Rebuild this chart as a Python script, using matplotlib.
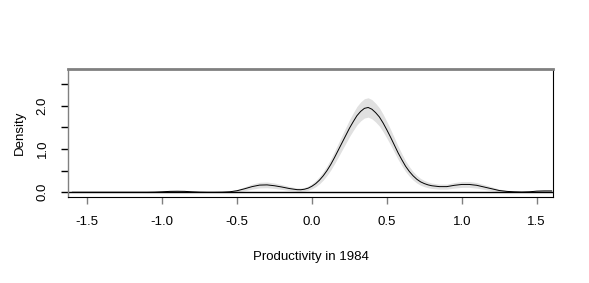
import matplotlib
matplotlib.use("Agg")
import matplotlib.pyplot as plt

plt.rcParams['font.family'] = ['Liberation Sans', 'DejaVu Sans']

# density estimate
x = [-1.60, -1.55, -1.50, -1.45, -1.40, -1.35, -1.30, -1.25, -1.20, -1.15,
     -1.10, -1.05, -1.00, -0.95, -0.90, -0.85, -0.80, -0.75, -0.70, -0.65,
     -0.60, -0.55, -0.50, -0.45, -0.40, -0.35, -0.30, -0.25, -0.20, -0.15,
     -0.10, -0.075, -0.05, -0.025, 0.00, 0.025, 0.05, 0.075, 0.10, 0.125,
     0.15, 0.175, 0.20, 0.225, 0.25, 0.275, 0.30, 0.325, 0.35, 0.375,
     0.40, 0.425, 0.45, 0.475, 0.50, 0.525, 0.55, 0.575, 0.60, 0.625,
     0.65, 0.675, 0.70, 0.725, 0.75, 0.775, 0.80, 0.85,
     0.90, 0.95, 1.00, 1.05, 1.10, 1.15, 1.20, 1.25, 1.30, 1.35,
     1.40, 1.45, 1.50, 1.55, 1.60]
dens = [0.0, 0.0, 0.0, 0.0, 0.0, 0.0, 0.0, 0.0, 0.0, 0.0,
        0.0, 0.003, 0.01, 0.02, 0.022, 0.02, 0.01, 0.003, 0.0, 0.0,
        0.002, 0.01, 0.035, 0.08, 0.13, 0.165, 0.17, 0.15, 0.12, 0.085,
        0.06, 0.058, 0.07, 0.095, 0.14, 0.20, 0.28, 0.38, 0.50, 0.64,
        0.80, 0.97, 1.14, 1.31, 1.48, 1.63, 1.77, 1.87, 1.94, 1.96,
        1.92, 1.84, 1.74, 1.60, 1.44, 1.27, 1.09, 0.91, 0.75, 0.60,
        0.48, 0.38, 0.30, 0.24, 0.20, 0.17, 0.15, 0.13,
        0.13, 0.16, 0.18, 0.18, 0.16, 0.12, 0.08, 0.04, 0.02, 0.01,
        0.005, 0.01, 0.025, 0.03, 0.03]
half_width = [0.0, 0.0, 0.0, 0.0, 0.0, 0.0, 0.0, 0.0, 0.0, 0.005,
              0.008, 0.009, 0.016, 0.023, 0.024, 0.023, 0.016, 0.009, 0.005, 0.005,
              0.007, 0.016, 0.030, 0.045, 0.058, 0.065, 0.066, 0.062, 0.055, 0.047,
              0.039, 0.040, 0.042, 0.049, 0.060, 0.072, 0.085, 0.099, 0.113, 0.128,
              0.143, 0.158, 0.171, 0.183, 0.195, 0.204, 0.213, 0.219, 0.223, 0.224,
              0.222, 0.217, 0.211, 0.202, 0.192, 0.180, 0.167, 0.153, 0.139, 0.124,
              0.111, 0.099, 0.088, 0.078, 0.072, 0.066, 0.062, 0.058,
              0.058, 0.064, 0.068, 0.068, 0.064, 0.055, 0.045, 0.032, 0.023, 0.016,
              0.011, 0.016, 0.025, 0.028, 0.028]

lower = [d - h for d, h in zip(dens, half_width)]
upper = [d + h for d, h in zip(dens, half_width)]

xticks = [-1.5, -1.0, -0.5, 0.0, 0.5, 1.0, 1.5]
yticks = [0.0, 0.5, 1.0, 1.5, 2.0, 2.5]
ylabels = ["0.0", "", "1.0", "", "2.0", ""]

fig = plt.figure(figsize=(5.89, 2.83), dpi=100)
ax = fig.add_axes([0.1154, 0.3039, 0.8235, 0.4523])

ax.fill_between(x, lower, upper, color="#e0e0e0", lw=0)
ax.plot(x, dens, color="black", lw=0.7)
ax.axhline(0, color="black", lw=1.0)

ax.set_xlim(-1.629, 1.609)
ax.set_ylim(-0.11, 2.85)

ax.set_xticks(xticks)
ax.set_xticklabels(["%.1f" % v for v in xticks])
ax.set_yticks(yticks)
ax.set_yticklabels(ylabels, rotation=90, va="center")

ax.tick_params(axis="x", length=5, width=1, color="#808080", pad=9, labelsize=9.5)
ax.tick_params(axis="y", length=5, width=1, color="black", pad=9, labelsize=9.5)

ax.spines["top"].set_color("#808080")
ax.spines["top"].set_linewidth(2)
ax.spines["left"].set_color("#808080")
ax.spines["left"].set_linewidth(1)
ax.spines["right"].set_color("black")
ax.spines["bottom"].set_color("black")

ax.set_xlabel("Productivity in 1984", fontsize=9.5, labelpad=16)
ax.set_ylabel("Density", fontsize=9.5, labelpad=8)

fig.savefig("out.png", dpi=100)
